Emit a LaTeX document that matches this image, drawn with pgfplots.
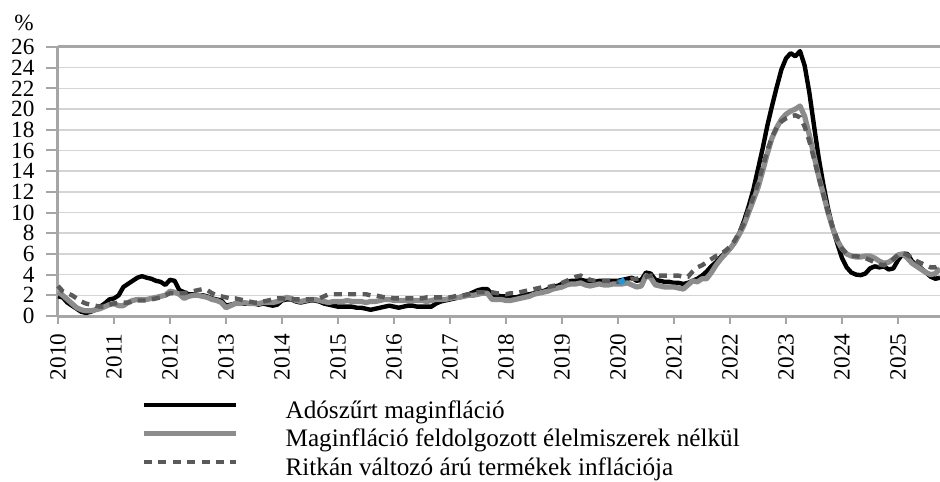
\documentclass[border=0pt]{standalone}
\usepackage{fontspec}
\setmainfont{Liberation Serif}
\usepackage{pgfplots}
\usepackage{pgfplotstable}
\pgfplotsset{compat=1.18}
\definecolor{axgrey}{HTML}{A6A6A6}
\definecolor{gridgrey}{HTML}{D4D4D4}
\definecolor{sergrey}{HTML}{8C8C8C}
\definecolor{dashgrey}{HTML}{5A5A5A}
\definecolor{blueart}{HTML}{1E96DC}
\pgfplotstableread{
y m a b c
2010 1 1.9 2.3 2.9
2010 2 1.8 2.0 2.4
2010 3 1.3 1.6 2.2
2010 4 1.0 1.2 2.0
2010 5 0.7 0.8 1.7
2010 6 0.4 0.6 1.4
2010 7 0.3 0.5 1.2
2010 8 0.4 0.5 1.1
2010 9 0.6 0.6 1.0
2010 10 0.9 0.7 0.9
2010 11 1.2 0.9 0.9
2010 12 1.6 1.1 1.1
2011 1 1.7 1.2 1.2
2011 2 2.0 1.0 1.3
2011 3 2.8 1.0 1.3
2011 4 3.1 1.3 1.3
2011 5 3.4 1.5 1.4
2011 6 3.7 1.6 1.5
2011 7 3.85 1.6 1.5
2011 8 3.7 1.6 1.5
2011 9 3.6 1.7 1.6
2011 10 3.4 1.8 1.7
2011 11 3.3 1.9 1.8
2011 12 3.0 2.0 2.0
2012 1 3.5 2.4 2.2
2012 2 3.4 2.3 2.2
2012 3 2.5 2.1 2.2
2012 4 2.3 1.7 2.2
2012 5 2.1 1.9 2.3
2012 6 2.1 2.0 2.4
2012 7 2.0 2.0 2.5
2012 8 2.0 1.9 2.6
2012 9 1.9 1.8 2.5
2012 10 1.7 1.6 2.2
2012 11 1.6 1.5 2.0
2012 12 1.5 1.3 1.9
2013 1 1.0 0.8 1.8
2013 2 1.1 1.0 1.7
2013 3 1.2 1.2 1.7
2013 4 1.2 1.2 1.6
2013 5 1.2 1.3 1.5
2013 6 1.2 1.2 1.4
2013 7 1.2 1.2 1.3
2013 8 1.1 1.2 1.3
2013 9 1.2 1.3 1.4
2013 10 1.1 1.3 1.5
2013 11 1.0 1.3 1.6
2013 12 1.1 1.4 1.7
2014 1 1.5 1.6 1.7
2014 2 1.6 1.8 1.6
2014 3 1.6 1.7 1.6
2014 4 1.4 1.5 1.6
2014 5 1.3 1.4 1.6
2014 6 1.4 1.5 1.6
2014 7 1.5 1.6 1.6
2014 8 1.5 1.6 1.6
2014 9 1.4 1.5 1.7
2014 10 1.2 1.4 1.9
2014 11 1.1 1.3 2.1
2014 12 1.0 1.4 2.1
2015 1 0.9 1.4 2.1
2015 2 0.9 1.4 2.1
2015 3 0.9 1.5 2.1
2015 4 0.9 1.4 2.1
2015 5 0.8 1.4 2.1
2015 6 0.8 1.4 2.1
2015 7 0.7 1.3 2.1
2015 8 0.6 1.4 2.0
2015 9 0.7 1.4 2.0
2015 10 0.8 1.5 1.9
2015 11 0.9 1.6 1.8
2015 12 1.0 1.6 1.8
2016 1 0.9 1.5 1.7
2016 2 0.8 1.5 1.7
2016 3 0.9 1.5 1.7
2016 4 1.0 1.5 1.7
2016 5 1.0 1.5 1.7
2016 6 0.9 1.5 1.7
2016 7 0.9 1.5 1.7
2016 8 0.9 1.4 1.8
2016 9 0.9 1.5 1.8
2016 10 1.2 1.6 1.8
2016 11 1.4 1.6 1.8
2016 12 1.5 1.6 1.8
2017 1 1.6 1.7 1.8
2017 2 1.7 1.8 1.9
2017 3 1.8 1.8 2.0
2017 4 2.0 1.9 2.0
2017 5 2.1 2.0 2.1
2017 6 2.3 2.0 2.2
2017 7 2.5 2.1 2.3
2017 8 2.6 2.2 2.3
2017 9 2.6 2.2 2.3
2017 10 2.1 1.6 2.3
2017 11 2.0 1.6 2.2
2017 12 1.9 1.6 2.2
2018 1 1.9 1.5 2.1
2018 2 1.8 1.5 2.2
2018 3 1.8 1.6 2.2
2018 4 1.9 1.7 2.3
2018 5 2.1 1.8 2.4
2018 6 2.1 1.9 2.5
2018 7 2.2 2.1 2.6
2018 8 2.4 2.2 2.7
2018 9 2.4 2.3 2.8
2018 10 2.6 2.4 2.8
2018 11 2.8 2.6 2.9
2018 12 2.9 2.7 3.0
2019 1 3.1 2.8 3.2
2019 2 3.3 3.0 3.4
2019 3 3.4 3.1 3.6
2019 4 3.4 3.1 3.8
2019 5 3.5 3.2 3.9
2019 6 3.4 3.0 3.7
2019 7 3.4 2.9 3.5
2019 8 3.3 3.0 3.4
2019 9 3.4 3.1 3.4
2019 10 3.4 3.0 3.4
2019 11 3.4 3.0 3.4
2019 12 3.4 3.1 3.4
2020 1 3.4 3.1 3.3
2020 2 3.5 3.1 3.4
2020 3 3.6 3.2 3.5
2020 4 3.7 3.0 3.6
2020 5 3.4 2.8 3.6
2020 6 3.5 2.9 3.7
2020 7 4.2 3.9 3.8
2020 8 4.1 3.7 3.9
2020 9 3.5 3.0 3.9
2020 10 3.4 2.9 3.9
2020 11 3.3 2.8 3.9
2020 12 3.3 2.8 3.9
2021 1 3.2 2.8 3.9
2021 2 3.2 2.7 3.9
2021 3 3.1 2.6 3.8
2021 4 3.2 3.0 3.8
2021 5 3.4 3.4 4.3
2021 6 3.6 3.3 4.7
2021 7 3.9 3.6 4.9
2021 8 4.3 3.6 5.2
2021 9 4.8 4.2 5.5
2021 10 5.2 4.9 5.8
2021 11 5.7 5.5 6.0
2021 12 6.1 6.0 6.3
2022 1 6.5 6.5 6.7
2022 2 7.1 7.1 7.3
2022 3 8.0 7.9 8.1
2022 4 9.2 8.8 9.0
2022 5 10.6 10.0 10.3
2022 6 12.2 11.2 11.5
2022 7 14.2 12.4 12.8
2022 8 16.2 14.0 14.4
2022 9 18.4 15.7 16.0
2022 10 20.3 17.2 17.3
2022 11 22.1 18.2 18.2
2022 12 23.8 19.0 18.8
2023 1 24.9 19.5 19.1
2023 2 25.4 19.8 19.3
2023 3 25.1 20.0 19.4
2023 4 25.6 20.3 19.2
2023 5 24.2 19.3 18.3
2023 6 21.6 17.5 16.9
2023 7 18.4 15.5 15.2
2023 8 15.3 13.5 13.4
2023 9 12.7 11.8 11.7
2023 10 10.4 10.0 10.0
2023 11 8.5 8.5 8.6
2023 12 7.0 7.3 7.4
2024 1 5.6 6.5 6.5
2024 2 4.7 6.0 6.0
2024 3 4.2 5.8 5.8
2024 4 4.0 5.7 5.8
2024 5 3.95 5.7 5.7
2024 6 4.1 5.8 5.6
2024 7 4.6 5.8 5.4
2024 8 4.8 5.6 5.2
2024 9 4.7 5.3 5.0
2024 10 4.8 5.1 4.9
2024 11 4.5 5.2 5.1
2024 12 4.6 5.5 5.5
2025 1 5.4 5.9 5.9
2025 2 6.0 6.0 6.1
2025 3 6.0 5.6 5.9
2025 4 5.3 5.1 5.6
2025 5 4.9 4.8 5.3
2025 6 4.6 4.5 5.1
2025 7 4.2 4.2 4.9
2025 8 3.8 4.0 4.7
2025 9 3.6 4.1 4.7
2025 10 3.7 4.6 4.9
}\datatable
\begin{document}
\begin{tikzpicture}
\begin{axis}[
  scale only axis, width=441pt, height=134.5pt,
  xmin=2010, xmax=2025.75, ymin=0, ymax=26,
  axis x line*=bottom, axis y line*=left,
  axis line style={color=axgrey, line width=1.5pt},
  xtick={2010,...,2025},
  xticklabels={2010,2011,2012,2013,2014,2015,2016,2017,2018,2019,2020,2021,2022,2023,2024,2025},
  ytick={0,2,...,24},
  extra y ticks={26},
  extra y tick style={grid style={color=axgrey, line width=1.5pt}},
  ymajorgrids, grid style={color=gridgrey, line width=0.8pt},
  tick align=outside,
  xtick style={color=axgrey, line width=1pt, /pgfplots/major tick length=4pt},
  ytick style={color=axgrey, line width=1pt, /pgfplots/major tick length=6pt},
  /pgf/number format/assume math mode=true,
  ticklabel style={font=\fontsize{11.6}{13}\selectfont, text=black},
  xticklabel style={rotate=90, anchor=east, xshift=-1pt},
  yticklabel style={xshift=-4pt},
  clip=false,
  legend style={draw=none, fill=none, at={(axis description cs:0,0)}, anchor=north west,
    xshift=41.5pt, yshift=-42pt, font=\fontsize{12.6}{14}\selectfont,
    inner sep=0pt, row sep=3.2pt,
    nodes={text height=8.8pt, text depth=2.3pt, inner sep=0pt},
    /tikz/every odd column/.append style={column sep=23.5pt}},
  legend cell align=left,
  legend image code/.code={\draw[#1] (0pt,3.3pt) -- (46pt,3.3pt);},
]
\addplot[black, line width=2.2pt, line join=round] table[x expr=\thisrow{y}+(\thisrow{m}-1)/12, y=a] {\datatable};
\addlegendentry{Adószűrt maginfláció}
\addplot[sergrey, line width=2.6pt, line join=round] table[x expr=\thisrow{y}+(\thisrow{m}-1)/12, y=b] {\datatable};
\addlegendentry{Maginfláció feldolgozott élelmiszerek nélkül}
\addplot[dashgrey, line width=2.2pt, dash pattern=on 4pt off 3.2pt] table[x expr=\thisrow{y}+(\thisrow{m}-1)/12, y=c] {\datatable};
\addlegendentry{Ritkán változó árú termékek inflációja}
\addplot[blueart, line width=2.6pt, forget plot] coordinates {(2020.02,3.2) (2020.12,3.5)};
\coordinate (bl) at (rel axis cs:0,0);
\coordinate (tr) at (rel axis cs:1,1);
\node[anchor=center, font=\fontsize{11.6}{13}\selectfont] at ([shift={(-17pt,12pt)}]rel axis cs:0,1) {\%};
\end{axis}
\pgfresetboundingbox
\path[use as bounding box] ([shift={(-29pt,-82.5pt)}]bl) rectangle ([shift={(0pt,23.5pt)}]tr);
\end{tikzpicture}
\end{document}
